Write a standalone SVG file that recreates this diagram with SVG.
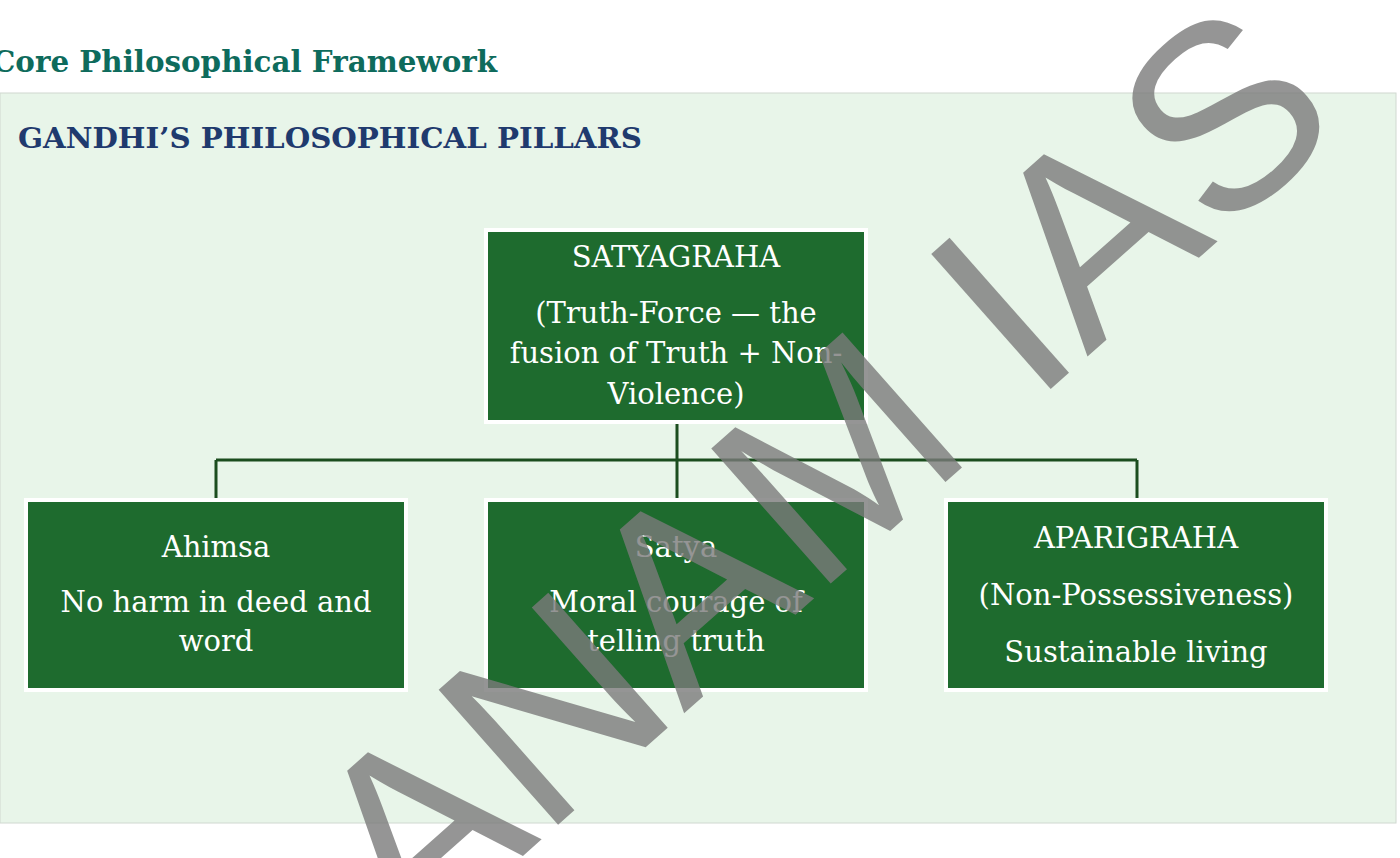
<svg xmlns="http://www.w3.org/2000/svg" width="1400" height="858" viewBox="0 0 1400 858">
<style>
.box{fill:#1e6b2e;stroke:#ffffff;stroke-width:4}
.t{font-family:"DejaVu Serif",serif;font-size:29px;fill:#ffffff;text-anchor:middle}
.c{stroke:#1b4d1e;stroke-width:3;fill:none}
</style>
<rect width="1400" height="858" fill="#ffffff"/>
<text x="-8" y="72" font-family="DejaVu Serif,serif" font-weight="bold" font-size="30" fill="#0e6b5c" textLength="505" lengthAdjust="spacingAndGlyphs">Core Philosophical Framework</text>
<rect x="0" y="93" width="1396" height="730" fill="#e8f5e9" stroke="#d0d8d0" stroke-width="1"/>
<text x="18" y="148" font-family="DejaVu Serif,serif" font-weight="bold" font-size="28" fill="#1f3a6e" textLength="624" lengthAdjust="spacingAndGlyphs">GANDHI’S PHILOSOPHICAL PILLARS</text>
<g id="connectors">
<path class="c" d="M677 422V460M216 460H1137M216 460V500M677 460V500M1137 460V500"/>
</g>
<g id="satyagraha">
<rect class="box" x="486" y="230" width="380" height="192"/>
<text class="t" x="676" y="267">SATYAGRAHA</text>
<text class="t" x="676" y="323">(Truth-Force — the</text>
<text class="t" x="676" y="363">fusion of Truth + Non-</text>
<text class="t" x="676" y="404">Violence)</text>
</g>
<g id="ahimsa">
<rect class="box" x="26" y="500" width="380" height="190"/>
<text class="t" x="216" y="557">Ahimsa</text>
<text class="t" x="216" y="612">No harm in deed and</text>
<text class="t" x="216" y="651">word</text>
</g>
<g id="satya">
<rect class="box" x="486" y="500" width="380" height="190"/>
<text class="t" x="676" y="557">Satya</text>
<text class="t" x="676" y="612">Moral courage of</text>
<text class="t" x="676" y="651">telling truth</text>
</g>
<g id="aparigraha">
<rect class="box" x="946" y="500" width="380" height="190"/>
<text class="t" x="1136" y="548">APARIGRAHA</text>
<text class="t" x="1136" y="605">(Non-Possessiveness)</text>
<text class="t" x="1136" y="662">Sustainable living</text>
</g>
<text x="0" y="0" transform="translate(880,540) rotate(-41.5)" text-anchor="middle" font-family="Liberation Sans,sans-serif" font-size="262" fill="#7a7a7a" fill-opacity="0.8">ANAM IAS</text>
</svg>
